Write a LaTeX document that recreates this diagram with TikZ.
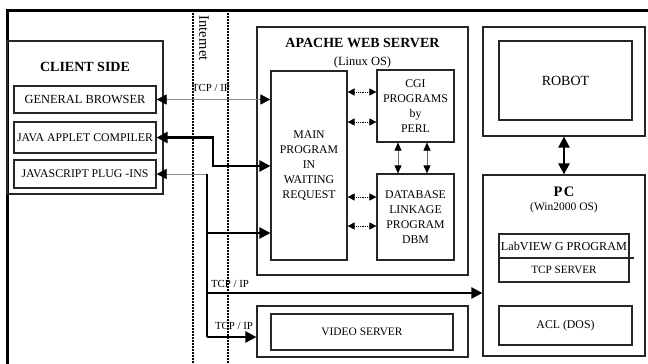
\documentclass[tikz,border=0pt]{standalone}
\usepackage{fontspec}
\setmainfont{Liberation Serif}
\usetikzlibrary{arrows.meta}

\tikzset{
  box/.style={draw=black!85,line width=1.2pt,inner sep=0pt,align=center,
    font=\fontsize{11.8}{14.8}\selectfont},
  lbl/.style={inner sep=0pt,font=\fontsize{11.8}{12}\selectfont},
  title/.style={inner sep=0pt,font=\fontsize{14}{15}\selectfont\bfseries},
  thicklink/.style={line width=2.4pt,arrows={-},>={Triangle[length=11pt,width=11pt]}},
  thinlink/.style={draw=black!45,line width=0.7pt,>={Triangle[length=10pt,width=10pt,color=black]}},
  dotlink/.style={line width=0.8pt,densely dotted,{Triangle[length=7pt,width=7pt]}-{Triangle[length=7pt,width=7pt]}},
  vlink/.style={draw=black!60,line width=0.7pt,{Triangle[length=8pt,width=7pt,color=black]}-{Triangle[length=8pt,width=7pt,color=black]}},
  netline/.style={line width=2pt,dash pattern=on 2pt off 1pt}
}

\begin{document}
\begin{tikzpicture}[x=1pt,y=-1pt]
  \useasboundingbox (0,0) rectangle (648,364);
  % frame and internet border
  \draw[line width=3pt] (7,364) -- (7,10) -- (648,10);
  \foreach \x in {193,228} \draw[netline] (\x,10) -- (\x,364);
  \node[lbl,rotate=-90,font=\fontsize{14.5}{15}\selectfont] (inet) at (204,38) {Internet};

  % client side
  \node[box,minimum width=156pt,minimum height=153pt] (client) at (85,117.5) {};
  \node[title] (clienttitle) at (85,67) {CLIENT SIDE};
  \node[box,minimum width=142pt,minimum height=27pt,font=\fontsize{12.4}{14}\selectfont] (browser) at (85,99.5) {GENERAL BROWSER};
  \node[box,minimum width=142pt,minimum height=31pt] (java) at (85,137.5) {JAVA APPLET COMPILER};
  \node[box,minimum width=142pt,minimum height=28pt] (jscript) at (85,174) {JAVASCRIPT PLUG -INS};

  % web server
  \node[box,minimum width=211pt,minimum height=248pt] (apache) at (362.5,151) {};
  \node[title] (apachetitle) at (362.5,43) {APACHE WEB SERVER};
  \node[lbl,font=\fontsize{12.5}{13}\selectfont] (apacheos) at (362.5,62) {(Linux OS)};
  \node[box,minimum width=76pt,minimum height=189pt] (mainprog) at (309,165.5)
    {MAIN\\PROGRAM\\IN\\WAITING\\REQUEST};
  \node[box,minimum width=77pt,minimum height=72pt] (cgi) at (415.5,106)
    {CGI\\PROGRAMS\\by\\PERL};
  \node[box,minimum width=77pt,minimum height=86pt] (dbm) at (415.5,217)
    {DATABASE\\LINKAGE\\PROGRAM\\DBM};

  % robot and pc
  \node[box,minimum width=162pt,minimum height=109pt] (robotbox) at (564,81.5) {};
  \node[box,minimum width=133pt,minimum height=79pt,font=\fontsize{14}{15}\selectfont] (robot) at (565.5,80.5) {ROBOT};
  \node[box,minimum width=162pt,minimum height=181pt] (pc) at (564,265.5) {};
  \node[title,font=\fontsize{14.5}{15}\selectfont\bfseries] (pctitle) at (564,191.5) {P\kern1.5pt C};
  \node[lbl,font=\fontsize{11.5}{12}\selectfont] (pcos) at (564,207.5) {(Win2000 OS)};
  \node[box,minimum width=130pt,minimum height=48pt] (labview) at (564,258) {};
  \node[lbl,font=\fontsize{12.2}{13}\selectfont] (labtext) at (564,246) {LabVIEW G PROGRAM};
  \node[lbl,font=\fontsize{11.2}{12}\selectfont] (tcpserver) at (564,270) {TCP SERVER};
  \draw[black!85,line width=1.2pt] (labview.west) -- (634,258);
  \node[box,minimum width=133pt,minimum height=39pt] (acl) at (565.5,325.5) {ACL (DOS)};

  % video server
  \node[box,minimum width=211pt,minimum height=51pt] (videobox) at (362.5,331.5) {};
  \node[box,minimum width=182pt,minimum height=36pt,font=\fontsize{11.4}{12}\selectfont] (video) at (362,332) {VIDEO SERVER};

  % links
  \node[lbl,font=\fontsize{10.8}{12}\selectfont] (tcp1) at (211,88) {TCP / IP};
  \node[lbl,font=\fontsize{10.8}{12}\selectfont] (tcp2) at (230,284) {TCP / IP};
  \node[lbl,font=\fontsize{10.8}{12}\selectfont] (tcp3) at (234,326) {TCP / IP};

  \draw[thinlink,<->] (browser.east) -- (mainprog.west |- browser.east);

  \coordinate (jbend) at (213,166);
  \draw[thicklink,<->] (java.east) -| (jbend) -- (jbend -| mainprog.west);

  \coordinate (hub) at (207,174);
  \coordinate (hubend) at (207,337);
  \draw[thinlink,->] (hub) -- (jscript.east);
  \draw[thicklink] (hub) -- (hubend);
  \draw[thicklink,->] (207,233) -- (mainprog.west |- 0,233);
  \draw[thicklink,->] (207,293) -- (pc.west |- 0,293);
  \draw[thicklink,->] (hubend) -- (videobox.west |- hubend);

  \foreach \y in {92,122} \draw[dotlink] (mainprog.east |- 0,\y) -- (cgi.west |- 0,\y);
  \foreach \y in {197,226} \draw[dotlink] (mainprog.east |- 0,\y) -- (dbm.west |- 0,\y);
  \foreach \x in {398,427} \draw[vlink] (cgi.south -| \x,0) -- (dbm.north -| \x,0);

  \draw[thicklink,<->] (robotbox.south) -- (pc.north);
\end{tikzpicture}
\end{document}
